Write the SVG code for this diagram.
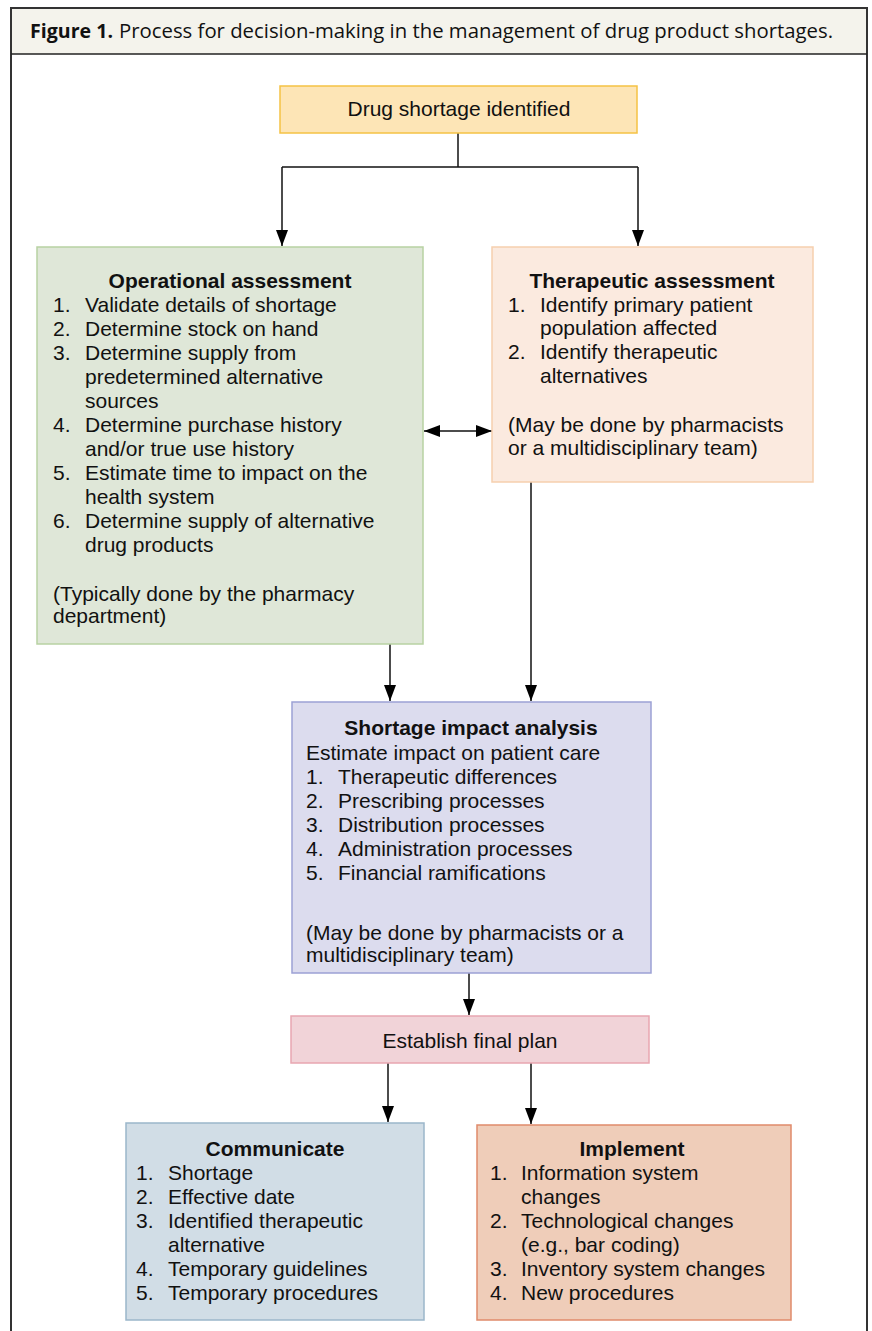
<svg xmlns="http://www.w3.org/2000/svg" width="872" height="1331" viewBox="0 0 872 1331">
<style>
.t{font-family:"Liberation Sans",Arial,sans-serif;font-size:21px;fill:#111}
.b{font-weight:bold}
.c{text-anchor:middle}
.cn{fill:none;stroke:#111;stroke-width:1.5}
.box{stroke-width:1.5}
.ttl{font-family:"Open Sans","Liberation Sans",sans-serif;font-size:20px;fill:#111}
</style>
<defs>
<marker id="ah" markerUnits="userSpaceOnUse" markerWidth="16" markerHeight="12" refX="16" refY="6" orient="auto-start-reverse">
<path d="M0,0 L16,6 L0,12 z" fill="#000"/>
</marker>
</defs>
<rect x="0" y="0" width="872" height="1331" fill="#fff"/>
<g id="frame">
<rect x="11" y="8" width="856" height="46" fill="#f4f3ec"/>
<path d="M11,1331 V8 H867 V1331" fill="none" stroke="#333" stroke-width="2"/>
<line x1="11" y1="54" x2="867" y2="54" stroke="#222" stroke-width="1.5"/>
<text class="ttl" x="30" y="38" font-weight="bold" textLength="83" lengthAdjust="spacingAndGlyphs">Figure 1.</text>
<text class="ttl" x="119" y="38" textLength="714" lengthAdjust="spacingAndGlyphs">Process for decision-making in the management of drug product shortages.</text>
</g>
<g id="connectors">
<path class="cn" d="M458,133 V167"/>
<path class="cn" d="M282,167 H638"/>
<path class="cn" d="M282,167 V246" marker-end="url(#ah)"/>
<path class="cn" d="M638,167 V246" marker-end="url(#ah)"/>
<path class="cn" d="M424,431 H492" marker-start="url(#ah)" marker-end="url(#ah)"/>
<path class="cn" d="M390,644 V701" marker-end="url(#ah)"/>
<path class="cn" d="M531,482 V701" marker-end="url(#ah)"/>
<path class="cn" d="M469,973 V1015" marker-end="url(#ah)"/>
<path class="cn" d="M388,1063 V1122" marker-end="url(#ah)"/>
<path class="cn" d="M531,1063 V1124" marker-end="url(#ah)"/>
</g>
<g id="drug-shortage">
<rect class="box" x="280" y="86" width="357" height="47" fill="#fde5b6" stroke="#f5c244"/>
<text class="t c" x="459" y="116">Drug shortage identified</text>
</g>
<g id="operational">
<rect class="box" x="37" y="247" width="386" height="397" fill="#dfe7d8" stroke="#b8d2a3"/>
<text class="t b c" x="230" y="288">Operational assessment</text>
<text class="t" x="53" y="312">1.</text><text class="t" x="85" y="312">Validate details of shortage</text>
<text class="t" x="53" y="336">2.</text><text class="t" x="85" y="336">Determine stock on hand</text>
<text class="t" x="53" y="360">3.</text><text class="t" x="85" y="360">Determine supply from</text>
<text class="t" x="85" y="384">predetermined alternative</text>
<text class="t" x="85" y="408">sources</text>
<text class="t" x="53" y="432">4.</text><text class="t" x="85" y="432">Determine purchase history</text>
<text class="t" x="85" y="456">and/or true use history</text>
<text class="t" x="53" y="480">5.</text><text class="t" x="85" y="480">Estimate time to impact on the</text>
<text class="t" x="85" y="504">health system</text>
<text class="t" x="53" y="528">6.</text><text class="t" x="85" y="528">Determine supply of alternative</text>
<text class="t" x="85" y="552">drug products</text>
<text class="t" x="53" y="601">(Typically done by the pharmacy</text>
<text class="t" x="53" y="623">department)</text>
</g>
<g id="therapeutic">
<rect class="box" x="492" y="247" width="321" height="235" fill="#fbeadf" stroke="#f6cfae"/>
<text class="t b c" x="652" y="288">Therapeutic assessment</text>
<text class="t" x="508" y="312">1.</text><text class="t" x="540" y="312">Identify primary patient</text>
<text class="t" x="540" y="335">population affected</text>
<text class="t" x="508" y="359">2.</text><text class="t" x="540" y="359">Identify therapeutic</text>
<text class="t" x="540" y="383">alternatives</text>
<text class="t" x="508" y="432">(May be done by pharmacists</text>
<text class="t" x="508" y="455">or a multidisciplinary team)</text>
</g>
<g id="impact">
<rect class="box" x="292" y="702" width="359" height="271" fill="#dcdcee" stroke="#9ca1d5"/>
<text class="t b c" x="471" y="735">Shortage impact analysis</text>
<text class="t" x="306" y="760">Estimate impact on patient care</text>
<text class="t" x="306" y="784">1.</text><text class="t" x="338" y="784">Therapeutic differences</text>
<text class="t" x="306" y="808">2.</text><text class="t" x="338" y="808">Prescribing processes</text>
<text class="t" x="306" y="832">3.</text><text class="t" x="338" y="832">Distribution processes</text>
<text class="t" x="306" y="856">4.</text><text class="t" x="338" y="856">Administration processes</text>
<text class="t" x="306" y="880">5.</text><text class="t" x="338" y="880">Financial ramifications</text>
<text class="t" x="306" y="940">(May be done by pharmacists or a</text>
<text class="t" x="306" y="962">multidisciplinary team)</text>
</g>
<g id="final-plan">
<rect class="box" x="291" y="1016" width="358" height="47" fill="#f1d3d8" stroke="#e8a6b1"/>
<text class="t c" x="470" y="1048">Establish final plan</text>
</g>
<g id="communicate">
<rect class="box" x="126" y="1123" width="298" height="197" fill="#d1dde6" stroke="#9bb6ca"/>
<text class="t b c" x="275" y="1156">Communicate</text>
<text class="t" x="136" y="1180">1.</text><text class="t" x="168" y="1180">Shortage</text>
<text class="t" x="136" y="1204">2.</text><text class="t" x="168" y="1204">Effective date</text>
<text class="t" x="136" y="1228">3.</text><text class="t" x="168" y="1228">Identified therapeutic</text>
<text class="t" x="168" y="1252">alternative</text>
<text class="t" x="136" y="1276">4.</text><text class="t" x="168" y="1276">Temporary guidelines</text>
<text class="t" x="136" y="1300">5.</text><text class="t" x="168" y="1300">Temporary procedures</text>
</g>
<g id="implement">
<rect class="box" x="477" y="1125" width="314" height="195" fill="#efcdb9" stroke="#e08a6b"/>
<text class="t b c" x="632" y="1156">Implement</text>
<text class="t" x="490" y="1180">1.</text><text class="t" x="521" y="1180">Information system</text>
<text class="t" x="521" y="1204">changes</text>
<text class="t" x="490" y="1228">2.</text><text class="t" x="521" y="1228">Technological changes</text>
<text class="t" x="521" y="1252">(e.g., bar coding)</text>
<text class="t" x="490" y="1276">3.</text><text class="t" x="521" y="1276">Inventory system changes</text>
<text class="t" x="490" y="1300">4.</text><text class="t" x="521" y="1300">New procedures</text>
</g>
</svg>
